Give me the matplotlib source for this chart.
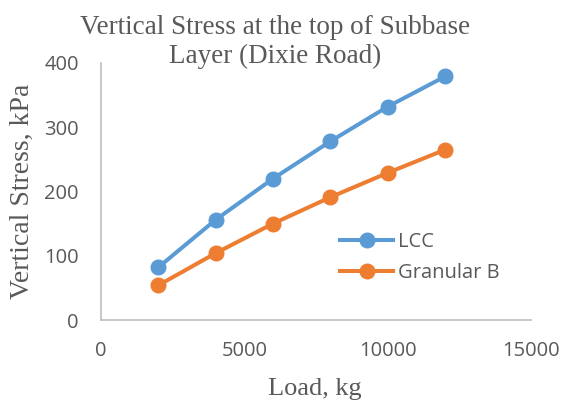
import matplotlib.pyplot as plt

# Vertical stress at the top of the subbase layer, Dixie Road
load_kg = [2000, 4000, 6000, 8000, 10000, 12000]
lcc_kpa = [82, 156, 220, 278, 332, 379]
granular_b_kpa = [54, 104, 150, 191, 229, 265]

x_ticks = [0, 5000, 10000, 15000]
y_ticks = [0, 100, 200, 300, 400]

gray = '#595959'
serif = 'Liberation Serif'
sans = 'Open Sans'

fig = plt.figure(figsize=(5.62, 4.08), dpi=100)
ax = fig.add_axes([101 / 562, 1 - 320 / 408, 430 / 562, 257 / 408])

ax.plot(load_kg, lcc_kpa, color='#5b9bd5', lw=2.9, marker='o', ms=10.5, label='LCC')
ax.plot(load_kg, granular_b_kpa, color='#ed7d31', lw=2.9, marker='o', ms=10.5, label='Granular B')

ax.set_xlim(0, 15000)
ax.set_ylim(0, 400)
ax.set_xticks(x_ticks)
ax.set_yticks(y_ticks)
ax.tick_params(length=0, labelsize=14.5, labelcolor=gray)
ax.tick_params(axis='y', pad=16)
ax.tick_params(axis='x', pad=15)
for lbl in ax.get_xticklabels() + ax.get_yticklabels():
    lbl.set_family(sans)

for side in ['top', 'right']:
    ax.spines[side].set_visible(False)
for side in ['left', 'bottom']:
    ax.spines[side].set_color('#bfbfbf')
    ax.spines[side].set_linewidth(1.2)

fig.text(315 / 562, 1 - 389 / 408, 'Load, kg', family=serif, fontsize=19,
         color=gray, ha='center', va='center')
fig.text(22 / 562, 1 - 191 / 408, 'Vertical Stress, kPa', family=serif, fontsize=20,
         color=gray, rotation=90, ha='center', va='center')

fig.text(275 / 562, 1 - 42 / 408, 'Vertical Stress at the top of Subbase\nLayer (Dixie Road)',
         family=serif, fontsize=19.5, color=gray, ha='center', va='center', linespacing=1.25)

ax.legend(loc='center left', bbox_to_anchor=(340 / 562, 1 - 257.5 / 408),
          bbox_transform=fig.transFigure, frameon=False,
          prop={'family': sans, 'size': 14.5}, labelcolor=gray,
          handlelength=2.65, handletextpad=0.25, labelspacing=0.55,
          borderpad=0, borderaxespad=0)

fig.savefig('out.png', dpi=100)
